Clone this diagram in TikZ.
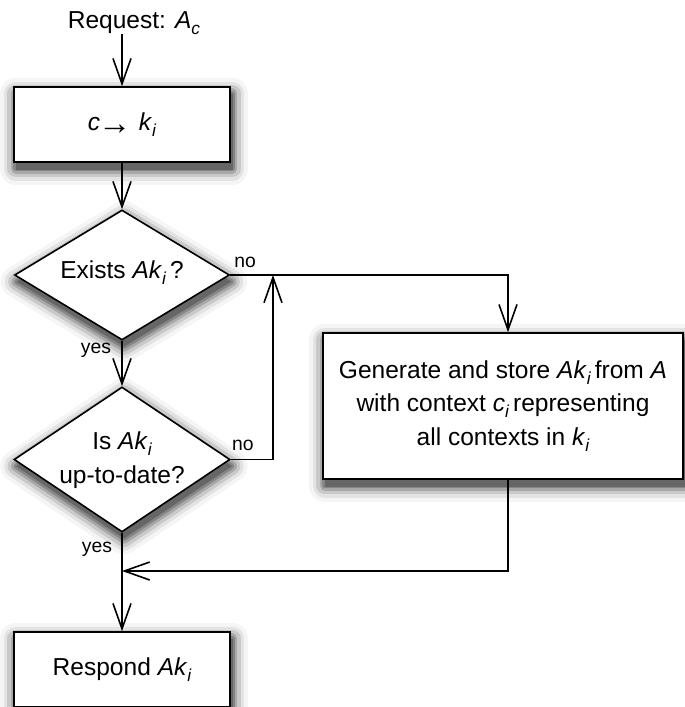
\documentclass[tikz,border=0pt]{standalone}
\usepackage{fontspec}
\setmainfont{Liberation Sans}
\usetikzlibrary{shapes.geometric,arrows.meta,shadows}

% italic variable names and lowered italic subscripts
\newcommand\ital[1]{\textit{#1}}
\newcommand\isub[1]{\raisebox{-4.5pt}{\fontsize{13}{13}\selectfont\itshape #1}}
\newcommand\maparrow{\kern-1.5pt\raisebox{-3pt}{\fontsize{25}{25}\selectfont →}\kern5.5pt}

\begin{document}
\begin{tikzpicture}[x=0.75pt,y=-0.75pt,
  every node/.style={font=\fontsize{18.4}{25}\selectfont},
  wire/.style={line width=1.2pt},
  flow/.style={wire,-{Straight Barb[length=19pt,width=13.5pt,line width=1.2pt]}},
  shadowring/.style n args={2}{general shadow={draw=black!#1,fill=black!#1,
      line width=#2,line join=round,shadow xshift=1.5pt,shadow yshift=-5pt}},
  softshadow/.style={shadowring={4}{24pt},shadowring={11}{18pt},
      shadowring={21}{13pt},shadowring={34}{8pt},shadowring={48}{4pt},
      shadowring={60}{0.1pt}},
  stepbox/.style={draw,line width=1.2pt,fill=white,rectangle,inner sep=0pt,
      align=center,softshadow},
  decision/.style={draw,line width=1.2pt,fill=white,diamond,inner sep=0pt,
      softshadow},
  answer/.style={font=\fontsize{14.5}{17}\selectfont,inner sep=0pt},
  txt/.style={inner sep=0pt,align=center}
]
\useasboundingbox (0,0) rectangle (685,707);

% request and the context mapping
\node[txt,anchor=base] (req) at (134,28) {Request: \ital{A}\isub{c}};
\node[stepbox,minimum width=162pt,minimum height=56.25pt] (map) at (122,124.5)
  {\ital{c}\maparrow\ital{k}\isub{i}};

% the two decisions
\node[decision,minimum width=161.25pt,minimum height=97.5pt] (d1) at (122,275) {};
\node[txt,anchor=base] (t1) at (122,278) {Exists \ital{Ak}\isub{i}\,?};
\node[decision,minimum width=162pt,minimum height=108.75pt] (d2) at (122,459.5) {};
\node[txt] (t2) at (122,460) {Is \ital{Ak}\isub{i}\\up-to-date?};

% generation step and the response
\node[stepbox,minimum width=270pt,minimum height=109.5pt] (gen) at (503,406)
  {Generate and store \ital{Ak}\isub{i}\,from \ital{A}\\
   with context \ital{c}\isub{i}\,representing\\
   all contexts in \ital{k}\isub{i}};
\node[stepbox,minimum width=162pt,minimum height=56.25pt] (resp) at (122,669.5)
  {Respond \ital{Ak}\isub{i}};

% branch labels
\node[answer] (no1) at (245,262) {no};
\node[answer] (yes1) at (96,350) {yes};
\node[answer] (no2) at (243,445) {no};
\node[answer] (yes2) at (97,549) {yes};

% bend points of the connectors
\coordinate (j1) at (508,275);
\coordinate (j2) at (273,459.5);
\coordinate (j3) at (508,571);

% connectors
\draw[flow] (req.south -| map.north) -- (map.north);
\draw[flow] (map) -- (d1);
\draw[flow] (d1) -- (d2);
\draw[flow] (d2) -- (resp);
\draw[flow] (d1.east) -- (j1) -- (j1 |- gen.north);
\draw[flow] (d2.east) -- (j2) -- (j2 |- d1.east);
\draw[flow] (j3 |- gen.south) -- (j3) -- (j3 -| d2.south);
\end{tikzpicture}
\end{document}
